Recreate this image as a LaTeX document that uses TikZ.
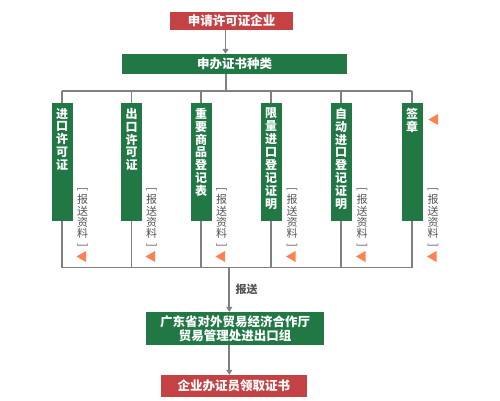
\documentclass[tikz,border=0pt]{standalone}
\usepackage{fontspec}
\setmainfont{Noto Sans CJK SC}
\usetikzlibrary{arrows.meta}
\definecolor{hdred}{RGB}{196,66,68}
\definecolor{hdgreen}{RGB}{33,120,68}
\definecolor{lngray}{RGB}{128,128,128}
\definecolor{txgray}{RGB}{85,85,85}
\definecolor{tri}{RGB}{255,128,80}
\tikzset{
  redbox/.style={fill=hdred,text=white,inner sep=0pt,font=\fontsize{12.5}{14}\selectfont\bfseries},
  greenbox/.style={fill=hdgreen,text=white,inner sep=0pt,font=\fontsize{12.5}{14}\selectfont\bfseries,align=center},
  bar/.style={fill=hdgreen,minimum width=21pt,minimum height=118pt,inner sep=0pt},
  bartext/.style={text=white,inner sep=0pt,align=center,anchor=north,font=\fontsize{12}{12.9}\selectfont\bfseries},
  sendtext/.style={text=txgray,inner sep=0pt,align=center,anchor=north,font=\fontsize{11}{11.3}\selectfont},
  frame/.style={draw=lngray,line width=1.8pt},
  arr/.style={draw=lngray,line width=1.8pt,-{Triangle[length=5pt,width=6pt]}},
  tri/.style={fill=tri,draw=none}
}
\newcommand{\sendlbl}{\rotatebox[origin=c]{-90}{[}\\报\\送\\资\\料\\\rotatebox[origin=c]{-90}{]}}
\begin{document}
\begin{tikzpicture}[x=1pt,y=-1pt]
\useasboundingbox (0,0) rectangle (500,400);
% frame
\foreach \x [count=\i] in {62,131.5,201,271,341,412}{
  \coordinate (top\i) at (\x,91);
  \coordinate (bot\i) at (\x,267.5);
}
\draw[frame] (top1) -- (top6);
\draw[frame] (bot1) -- (bot6);
\foreach \i in {1,...,6}{\draw[frame] (top\i) -- (bot\i);}
% top boxes
\node[redbox,minimum width=123pt,minimum height=18pt] (r1) at (231.5,21) {申请许可证企业};
\node[greenbox,minimum width=225pt,minimum height=20pt] (g1) at (234.5,64) {申办证书种类};
\draw[arr] ([xshift=-6pt]r1.south) -- ([xshift=-6pt]r1.south |- g1.north);
\coordinate (gtop) at (226,91);
\draw[frame] (g1.south -| gtop) -- (gtop);
% bars
\foreach \x/\t [count=\i] in {62/{进\\口\\许\\可\\证},131.5/{出\\口\\许\\可\\证},201/{重\\要\\商\\品\\登\\记\\表},271/{限\\量\\进\\口\\登\\记\\证\\明},341/{自\\动\\进\\口\\登\\记\\证\\明},412/{签\\章}}{
  \node[bar] (b\i) at (\x,162) {};
  \node[bartext] (bt\i) at ([yshift=-5pt]b\i.north) {\t};
}
% send labels and triangles
\foreach \x [count=\i] in {82.5,151.5,221.5,292,362,433}{
  \node[sendtext] (s\i) at (\x,187) {\sendlbl};
  \fill[tri] (\x-6,256.5) -- (\x+3.5,251) -- (\x+3.5,262) -- cycle;
}
\fill[tri] (428.5,119.5) -- (438,114) -- (438,125) -- cycle;
% lower part
\node[greenbox,minimum width=178pt,minimum height=33pt] (g2) at (235,328.5) {广东省对外贸易经济合作厅\\贸易管理处进出口组};
\node[redbox,minimum width=146pt,minimum height=22pt] (r2) at (233.8,386) {企业办证员领取证书};
\coordinate (fb) at (229.3,267.5);
\draw[arr] (fb) -- (fb |- g2.north) node[midway,right=2pt,text=txgray,font=\fontsize{11}{12}\selectfont\bfseries] (lbl) {报送};
\draw[arr] (g2.south -| fb) -- (r2.north -| fb);
\end{tikzpicture}
\end{document}
